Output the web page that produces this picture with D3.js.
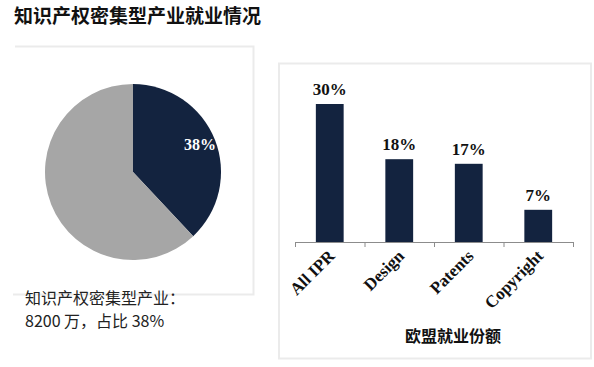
<!DOCTYPE html>
<html>
<head>
<meta charset="utf-8">
<script src="https://cdn.jsdelivr.net/npm/d3@7"></script>
<style>
  body { margin: 0; background: #fff; }
  svg { display: block; }
</style>
</head>
<body>
<svg id="chart" width="594" height="367"></svg>
<script>
'use strict';

// pie: share of EU employment in IP-intensive industries
const pieLabels = ['知识产权密集型产业', '其他产业'];
const pieValues = [38, 62];

// bars: share of EU employment by IP right
const barCategories = ['All IPR', 'Design', 'Patents', 'Copyright'];
const barValues = [30, 18, 17, 7];

const navy = '#13233f';
const grey = '#a6a6a6';
const frame = '#ebebeb';
const serif = '"Liberation Serif", "Times New Roman", serif';
const cjk = '"Noto Sans CJK SC", "Noto Sans", sans-serif';

const svg = d3.select('#chart');

// title
svg.append('text')
  .attr('x', 14)
  .attr('y', 23)
  .attr('font-family', cjk)
  .attr('font-weight', 'bold')
  .attr('font-size', 19)
  .attr('fill', '#111')
  .text('知识产权密集型产业就业情况');

//  --------------------------------  LEFT PANEL  --------------------------------  //

// frame: top, right and bottom edges only
svg.append('path')
  .attr('d', 'M15,46.5 H253.5 V294.5 H13')
  .attr('fill', 'none')
  .attr('stroke', frame)
  .attr('stroke-width', 2);

const pieCenter = { x: 133, y: 172 };
const radius = 88;

const pie = d3.pie().sort(null).value(d => d);
const arc = d3.arc().innerRadius(0).outerRadius(radius);

const pieGroup = svg.append('g')
  .attr('transform', `translate(${pieCenter.x},${pieCenter.y})`);

pieGroup.selectAll('path')
  .data(pie(pieValues))
  .enter()
  .append('path')
  .attr('d', arc)
  .attr('fill', (d, i) => (i === 0 ? navy : grey));

// percentage label inside the dark slice
pieGroup.append('text')
  .attr('x', 67)
  .attr('y', -22)
  .attr('text-anchor', 'middle')
  .attr('font-family', serif)
  .attr('font-weight', 'bold')
  .attr('font-size', 16)
  .attr('fill', '#fff')
  .text(`${pieValues[0]}%`);

// note under the pie, two separate lines
svg.append('text')
  .attr('x', 25).attr('y', 304)
  .attr('font-family', cjk)
  .attr('font-size', 16)
  .attr('fill', '#222')
  .text(`${pieLabels[0]}：`);

svg.append('text')
  .attr('x', 25).attr('y', 327)
  .attr('font-family', cjk)
  .attr('font-size', 16)
  .attr('fill', '#222')
  .text(`8200 万，占比 ${pieValues[0]}%`);

//  --------------------------------  RIGHT PANEL  -------------------------------  //

svg.append('rect')
  .attr('x', 279).attr('y', 63.5)
  .attr('width', 312).attr('height', 295)
  .attr('fill', 'none')
  .attr('stroke', frame)
  .attr('stroke-width', 2);

const x = d3.scaleBand()
  .domain(barCategories)
  .range([295, 573])
  .paddingInner(0.6)
  .paddingOuter(0.3);

const y = d3.scaleLinear()
  .domain([0, 30])
  .range([242, 104]);

const bars = svg.append('g');

bars.selectAll('rect')
  .data(barValues)
  .enter()
  .append('rect')
  .attr('x', (d, i) => x(barCategories[i]))
  .attr('y', d => y(d))
  .attr('width', x.bandwidth())
  .attr('height', d => y(0) - y(d))
  .attr('fill', navy);

bars.selectAll('text')
  .data(barValues)
  .enter()
  .append('text')
  .attr('x', (d, i) => x(barCategories[i]) + x.bandwidth() / 2)
  .attr('y', d => y(d) - 9)
  .attr('text-anchor', 'middle')
  .attr('font-family', serif)
  .attr('font-weight', 'bold')
  .attr('font-size', 17)
  .attr('fill', '#111')
  .text(d => `${d}%`);

// category axis with ticks on band boundaries
const axisLeft = 295;
const axisRight = 573;
const axis = svg.append('g');

axis.append('line')
  .attr('x1', axisLeft).attr('x2', axisRight)
  .attr('y1', 242.5).attr('y2', 242.5)
  .attr('stroke', '#8c8c8c');

const tickPositions = d3.range(barCategories.length + 1)
  .map(i => axisLeft + i * (axisRight - axisLeft) / barCategories.length);

axis.selectAll('line.tick')
  .data(tickPositions)
  .enter()
  .append('line')
  .attr('class', 'tick')
  .attr('x1', d => d + 0.5).attr('x2', d => d + 0.5)
  .attr('y1', 242).attr('y2', 247)
  .attr('stroke', '#8c8c8c');

axis.selectAll('text')
  .data(barCategories)
  .enter()
  .append('text')
  .attr('transform', d => `translate(${x(d) + x.bandwidth() / 2 + 6},${257}) rotate(-45)`)
  .attr('text-anchor', 'end')
  .attr('font-family', serif)
  .attr('font-weight', 'bold')
  .attr('font-size', 17)
  .attr('fill', '#111')
  .text(d => d);

svg.append('text')
  .attr('x', 453)
  .attr('y', 342)
  .attr('text-anchor', 'middle')
  .attr('font-family', cjk)
  .attr('font-weight', 'bold')
  .attr('font-size', 16)
  .attr('fill', '#111')
  .text('欧盟就业份额');
</script>
</body>
</html>
